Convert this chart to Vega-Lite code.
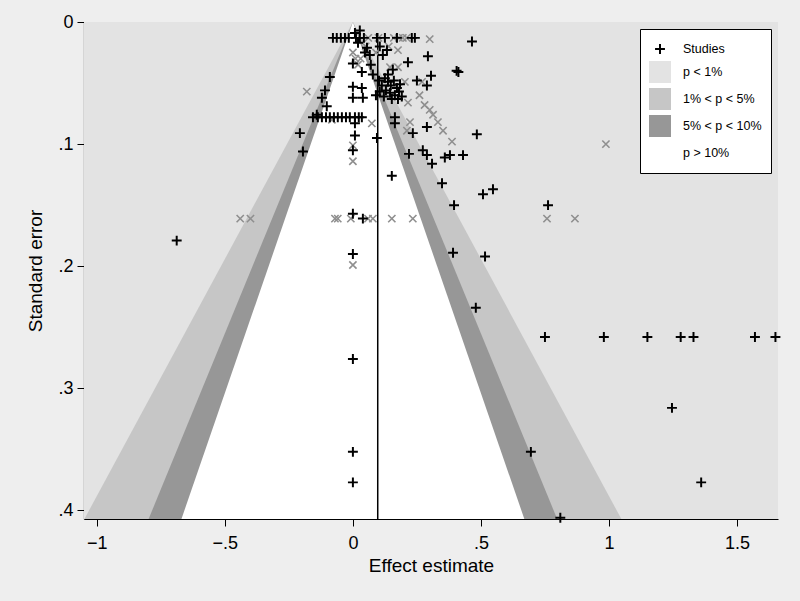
{
  "$schema": "https://vega.github.io/schema/vega-lite/v6.json",
  "autosize": {"type": "none"},
  "width": 694,
  "height": 497,
  "padding": {"left": 84, "top": 22, "right": 22, "bottom": 82},
  "background": "#eeeeee",
  "config": {
    "font": "Liberation Sans",
    "view": {"stroke": null},
    "axis": {"domainColor": "#000000", "tickColor": "#000000", "labelColor": "#000000", "titleColor": "#000000", "grid": false, "labelFontSize": 18, "titleFontSize": 19, "titleFontWeight": "normal", "tickSize": 7, "domainWidth": 1.2, "tickWidth": 1},
    "legend": {"title": null, "orient": "top-right", "offset": 7, "fillColor": "#ffffff", "strokeColor": "#000000", "strokeWidth": 1, "padding": 9, "rowPadding": 5, "labelFontSize": 12.5, "labelOffset": 12, "symbolSize": 484, "symbolStrokeWidth": 0, "symbolOpacity": 1, "labelColor": "#000000"}
  },
  "datasets": {
    "bands": [
      {"key": "p < 1%", "se": 0, "lo": -1.05, "hi": 1.66},
      {"key": "p < 1%", "se": 0.407, "lo": -1.05, "hi": 1.66},
      {"key": "1% < p < 5%", "se": 0, "lo": 0, "hi": 0},
      {"key": "1% < p < 5%", "se": 0.407, "lo": -1.0484, "hi": 1.0484},
      {"key": "5% < p < 10%", "se": 0, "lo": 0, "hi": 0},
      {"key": "5% < p < 10%", "se": 0.407, "lo": -0.7977, "hi": 0.7977},
      {"key": "p > 10%", "se": 0, "lo": 0, "hi": 0},
      {"key": "p > 10%", "se": 0.407, "lo": -0.6695, "hi": 0.6695}
    ],
    "pooled": [{"e": 0.097, "se0": 0.009, "se1": 0.407}],
    "studies": [
      {"key": "Studies", "e": -0.078, "se": 0.013}, {"key": "Studies", "e": -0.063, "se": 0.013}, {"key": "Studies", "e": -0.047, "se": 0.013}, {"key": "Studies", "e": -0.031, "se": 0.013}, {"key": "Studies", "e": -0.016, "se": 0.013}, {"key": "Studies", "e": 0.012, "se": 0.013}, {"key": "Studies", "e": 0.027, "se": 0.013}, {"key": "Studies", "e": 0.043, "se": 0.013}, {"key": "Studies", "e": 0.094, "se": 0.013}, {"key": "Studies", "e": 0.125, "se": 0.013}, {"key": "Studies", "e": 0.172, "se": 0.013}, {"key": "Studies", "e": 0.23, "se": 0.013}, {"key": "Studies", "e": 0.242, "se": 0.013},
      {"key": "Studies", "e": 0.008, "se": 0.009}, {"key": "Studies", "e": 0.027, "se": 0.007}, {"key": "Studies", "e": 0.02, "se": 0.017}, {"key": "Studies", "e": 0.055, "se": 0.021}, {"key": "Studies", "e": 0.105, "se": 0.02}, {"key": "Studies", "e": 0.133, "se": 0.023}, {"key": "Studies", "e": 0.047, "se": 0.025}, {"key": "Studies", "e": 0.066, "se": 0.027}, {"key": "Studies", "e": 0.117, "se": 0.027}, {"key": "Studies", "e": 0.293, "se": 0.028}, {"key": "Studies", "e": 0.465, "se": 0.016}, {"key": "Studies", "e": 0.215, "se": 0.033}, {"key": "Studies", "e": 0, "se": 0.034}, {"key": "Studies", "e": 0.035, "se": 0.041}, {"key": "Studies", "e": 0.07, "se": 0.035}, {"key": "Studies", "e": 0.078, "se": 0.043}, {"key": "Studies", "e": 0.405, "se": 0.04}, {"key": "Studies", "e": 0.412, "se": 0.041}, {"key": "Studies", "e": 0.305, "se": 0.044}, {"key": "Studies", "e": 0.25, "se": 0.048}, {"key": "Studies", "e": 0.289, "se": 0.052},
      {"key": "Studies", "e": 0.125, "se": 0.046}, {"key": "Studies", "e": 0.137, "se": 0.049}, {"key": "Studies", "e": 0.148, "se": 0.052}, {"key": "Studies", "e": 0.16, "se": 0.048}, {"key": "Studies", "e": 0.172, "se": 0.054}, {"key": "Studies", "e": 0.184, "se": 0.051}, {"key": "Studies", "e": 0.129, "se": 0.056}, {"key": "Studies", "e": 0.145, "se": 0.058}, {"key": "Studies", "e": 0.164, "se": 0.06}, {"key": "Studies", "e": 0.18, "se": 0.057}, {"key": "Studies", "e": 0.113, "se": 0.052}, {"key": "Studies", "e": 0.102, "se": 0.048}, {"key": "Studies", "e": 0.105, "se": 0.057}, {"key": "Studies", "e": 0.121, "se": 0.061}, {"key": "Studies", "e": 0.152, "se": 0.063}, {"key": "Studies", "e": 0.176, "se": 0.063}, {"key": "Studies", "e": 0.191, "se": 0.061}, {"key": "Studies", "e": 0.09, "se": 0.06}, {"key": "Studies", "e": 0.137, "se": 0.043}, {"key": "Studies", "e": 0.156, "se": 0.039},
      {"key": "Studies", "e": 0, "se": 0.053}, {"key": "Studies", "e": 0.035, "se": 0.054}, {"key": "Studies", "e": 0, "se": 0.062}, {"key": "Studies", "e": 0.039, "se": 0.062},
      {"key": "Studies", "e": -0.09, "se": 0.045}, {"key": "Studies", "e": -0.109, "se": 0.056}, {"key": "Studies", "e": -0.121, "se": 0.062}, {"key": "Studies", "e": -0.102, "se": 0.069}, {"key": "Studies", "e": -0.141, "se": 0.076},
      {"key": "Studies", "e": -0.156, "se": 0.078}, {"key": "Studies", "e": -0.137, "se": 0.078}, {"key": "Studies", "e": -0.121, "se": 0.078}, {"key": "Studies", "e": -0.105, "se": 0.078}, {"key": "Studies", "e": -0.09, "se": 0.078}, {"key": "Studies", "e": -0.074, "se": 0.078}, {"key": "Studies", "e": -0.059, "se": 0.078}, {"key": "Studies", "e": -0.043, "se": 0.078}, {"key": "Studies", "e": -0.027, "se": 0.078}, {"key": "Studies", "e": -0.012, "se": 0.078}, {"key": "Studies", "e": 0.008, "se": 0.078}, {"key": "Studies", "e": 0.023, "se": 0.078}, {"key": "Studies", "e": 0.035, "se": 0.078},
      {"key": "Studies", "e": 0.008, "se": 0.083}, {"key": "Studies", "e": -0.207, "se": 0.091}, {"key": "Studies", "e": -0.195, "se": 0.106}, {"key": "Studies", "e": 0.008, "se": 0.093}, {"key": "Studies", "e": 0.094, "se": 0.095}, {"key": "Studies", "e": 0.164, "se": 0.083}, {"key": "Studies", "e": 0.164, "se": 0.078}, {"key": "Studies", "e": 0.234, "se": 0.091}, {"key": "Studies", "e": 0.289, "se": 0.086}, {"key": "Studies", "e": 0.484, "se": 0.092}, {"key": "Studies", "e": 0.219, "se": 0.108}, {"key": "Studies", "e": 0.273, "se": 0.105}, {"key": "Studies", "e": 0.289, "se": 0.109}, {"key": "Studies", "e": 0.309, "se": 0.116}, {"key": "Studies", "e": 0.359, "se": 0.111}, {"key": "Studies", "e": 0.379, "se": 0.109}, {"key": "Studies", "e": 0.43, "se": 0.109}, {"key": "Studies", "e": 0.152, "se": 0.126}, {"key": "Studies", "e": 0.348, "se": 0.132}, {"key": "Studies", "e": 0.508, "se": 0.141}, {"key": "Studies", "e": 0.547, "se": 0.137}, {"key": "Studies", "e": 0.395, "se": 0.15}, {"key": "Studies", "e": 0.762, "se": 0.15}, {"key": "Studies", "e": 0, "se": 0.105}, {"key": "Studies", "e": 0.039, "se": 0.161}, {"key": "Studies", "e": -0.688, "se": 0.179}, {"key": "Studies", "e": 0.391, "se": 0.189}, {"key": "Studies", "e": 0.516, "se": 0.192}, {"key": "Studies", "e": 0.48, "se": 0.234},
      {"key": "Studies", "e": 0, "se": 0.157}, {"key": "Studies", "e": 0, "se": 0.19}, {"key": "Studies", "e": 0, "se": 0.276}, {"key": "Studies", "e": 0, "se": 0.352}, {"key": "Studies", "e": 0, "se": 0.377},
      {"key": "Studies", "e": 0.75, "se": 0.258}, {"key": "Studies", "e": 0.98, "se": 0.258}, {"key": "Studies", "e": 1.15, "se": 0.258}, {"key": "Studies", "e": 1.28, "se": 0.258}, {"key": "Studies", "e": 1.33, "se": 0.258}, {"key": "Studies", "e": 1.57, "se": 0.258}, {"key": "Studies", "e": 1.65, "se": 0.258},
      {"key": "Studies", "e": 1.246, "se": 0.316}, {"key": "Studies", "e": 1.36, "se": 0.377}, {"key": "Studies", "e": 0.695, "se": 0.352}, {"key": "Studies", "e": 0.81, "se": 0.406}
    ],
    "crosses": [
      {"e": 0.3, "se": 0.014}, {"e": 0.176, "se": 0.023}, {"e": 0.145, "se": 0.037}, {"e": 0.176, "se": 0.037}, {"e": 0.203, "se": 0.049}, {"e": 0.27, "se": 0.049}, {"e": 0.215, "se": 0.066}, {"e": 0.3, "se": 0.072}, {"e": 0.313, "se": 0.076}, {"e": 0.332, "se": 0.082}, {"e": 0.352, "se": 0.089}, {"e": 0.223, "se": 0.082}, {"e": 0.211, "se": 0.089}, {"e": 0.387, "se": 0.098}, {"e": 0.988, "se": 0.1}, {"e": -0.18, "se": 0.057}, {"e": -0.082, "se": 0.08}, {"e": 0.074, "se": 0.083}, {"e": 0, "se": 0.101}, {"e": 0, "se": 0.114},
      {"e": -0.44, "se": 0.161}, {"e": -0.4, "se": 0.161}, {"e": -0.07, "se": 0.161}, {"e": -0.059, "se": 0.161}, {"e": -0.008, "se": 0.161}, {"e": 0.059, "se": 0.161}, {"e": 0.078, "se": 0.161}, {"e": 0.152, "se": 0.161}, {"e": 0.234, "se": 0.161}, {"e": 0.758, "se": 0.161}, {"e": 0.867, "se": 0.161}, {"e": 0, "se": 0.199},
      {"e": 0.16, "se": 0.013}, {"e": 0.18, "se": 0.013}, {"e": 0.195, "se": 0.013}, {"e": 0.21, "se": 0.013}, {"e": 0.1, "se": 0.013}, {"e": 0.06, "se": 0.013}, {"e": 0.05, "se": 0.02}, {"e": 0.0, "se": 0.025}, {"e": 0.01, "se": 0.03}, {"e": 0.03, "se": 0.03}, {"e": 0.02, "se": 0.035}, {"e": 0.14, "se": 0.02}, {"e": 0.09, "se": 0.025}, {"e": 0.26, "se": 0.06}, {"e": 0.28, "se": 0.068}
    ]
  },
  "layer": [
    {
      "data": {"name": "bands"},
      "transform": [{"filter": "datum.key == 'p < 1%'"}],
      "mark": {"type": "area", "orient": "horizontal"},
      "encoding": {
        "y": {"field": "se", "type": "quantitative", "scale": {"domain": [0, 0.407], "reverse": true, "nice": false, "zero": false}, "axis": {"title": "Standard error", "values": [0, 0.1, 0.2, 0.3, 0.4], "labelExpr": "replace(format(datum.value, '~g'), '0.', '.')", "titlePadding": 12, "labelPadding": 4}},
        "x": {"field": "lo", "type": "quantitative", "stack": null, "scale": {"domain": [-1.05, 1.66], "nice": false, "zero": false}, "axis": {"title": "Effect estimate", "values": [-1, -0.5, 0, 0.5, 1, 1.5], "labelExpr": "replace(format(datum.value, '~g'), '0.', '.')", "titlePadding": 4, "labelPadding": 8}},
        "x2": {"field": "hi"},
        "color": {"field": "key", "type": "nominal", "scale": {"domain": ["Studies", "p < 1%", "1% < p < 5%", "5% < p < 10%", "p > 10%"], "range": ["#000000", "#e3e3e3", "#c6c6c6", "#979797", "#ffffff"]}}
      }
    },
    {
      "data": {"name": "bands"},
      "transform": [{"filter": "datum.key == '1% < p < 5%'"}],
      "mark": {"type": "area", "orient": "horizontal"},
      "encoding": {
        "y": {"field": "se", "type": "quantitative"},
        "x": {"field": "lo", "type": "quantitative", "stack": null},
        "x2": {"field": "hi"},
        "color": {"field": "key", "type": "nominal"}
      }
    },
    {
      "data": {"name": "bands"},
      "transform": [{"filter": "datum.key == '5% < p < 10%'"}],
      "mark": {"type": "area", "orient": "horizontal"},
      "encoding": {
        "y": {"field": "se", "type": "quantitative"},
        "x": {"field": "lo", "type": "quantitative", "stack": null},
        "x2": {"field": "hi"},
        "color": {"field": "key", "type": "nominal"}
      }
    },
    {
      "data": {"name": "bands"},
      "transform": [{"filter": "datum.key == 'p > 10%'"}],
      "mark": {"type": "area", "orient": "horizontal"},
      "encoding": {
        "y": {"field": "se", "type": "quantitative"},
        "x": {"field": "lo", "type": "quantitative", "stack": null},
        "x2": {"field": "hi"},
        "color": {"field": "key", "type": "nominal"}
      }
    },
    {
      "data": {"name": "pooled"},
      "mark": {"type": "rule", "color": "#000000", "strokeWidth": 1.5},
      "encoding": {
        "x": {"field": "e", "type": "quantitative"},
        "y": {"field": "se0", "type": "quantitative"},
        "y2": {"field": "se1"}
      }
    },
    {
      "data": {"name": "crosses"},
      "mark": {"type": "point", "shape": "M-0.33,-0.33L0.33,0.33M-0.33,0.33L0.33,-0.33", "filled": false, "stroke": "#8f8f8f", "strokeWidth": 1.6, "size": 484, "opacity": 1},
      "encoding": {
        "x": {"field": "e", "type": "quantitative"},
        "y": {"field": "se", "type": "quantitative"}
      }
    },
    {
      "data": {"name": "studies"},
      "mark": {"type": "point", "filled": true, "size": 484, "opacity": 1, "strokeWidth": 0},
      "encoding": {
        "x": {"field": "e", "type": "quantitative"},
        "y": {"field": "se", "type": "quantitative"},
        "color": {"field": "key", "type": "nominal"},
        "shape": {"field": "key", "type": "nominal", "scale": {"domain": ["Studies", "p < 1%", "1% < p < 5%", "5% < p < 10%", "p > 10%"], "range": ["M-0.45,-0.09H-0.09V-0.45H0.09V-0.09H0.45V0.09H0.09V0.45H-0.09V0.09H-0.45Z", "square", "square", "square", "square"]}}
      }
    }
  ]
}
